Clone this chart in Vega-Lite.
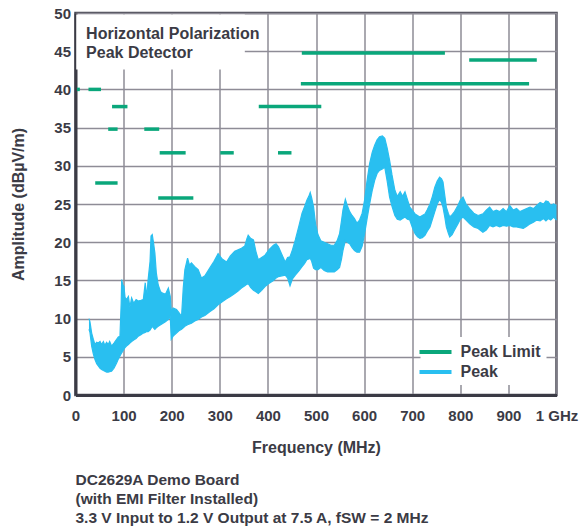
{
  "$schema": "https://vega.github.io/schema/vega-lite/v6.json",
  "width": 481,
  "height": 382,
  "autosize": {"type": "none"},
  "padding": {"left": 75.5, "top": 13, "right": 23.5, "bottom": 134},
  "background": "white",
  "config": {
    "font": "Liberation Sans",
    "view": {"stroke": "#4a4a54", "strokeWidth": 2.5},
    "axis": {
      "gridColor": "#8e8c96",
      "gridWidth": 1.5,
      "gridOpacity": 1,
      "domainColor": "#3b3b45",
      "domainWidth": 3,
      "ticks": false,
      "labelFont": "Liberation Sans",
      "labelFontSize": 15,
      "labelFontWeight": "bold",
      "labelColor": "#3b3b45",
      "labelOverlap": false,
      "labelFlush": false,
      "titleFont": "Liberation Sans",
      "titleFontSize": 16,
      "titleFontWeight": "bold",
      "titleColor": "#3b3b45"
    },
    "legend": {
      "orient": "bottom-right",
      "offset": 10,
      "fillColor": "white",
      "padding": 5,
      "labelFont": "Liberation Sans",
      "labelFontSize": 16,
      "labelFontWeight": "bold",
      "labelColor": "#3b3b45",
      "symbolType": "M-2,0L2,0",
      "symbolStrokeWidth": 4,
      "symbolSize": 256,
      "labelOffset": 15,
      "rowPadding": 2
    }
  },
  "title": {
    "text": ["DC2629A Demo Board", "(with EMI Filter Installed)", "3.3 V Input to 1.2 V Output at 7.5 A, fSW = 2 MHz"],
    "orient": "bottom",
    "anchor": "start",
    "frame": "group",
    "align": "left",
    "offset": 18,
    "font": "Liberation Sans",
    "fontSize": 15.5,
    "fontWeight": "bold",
    "color": "#3b3b45",
    "lineHeight": 19
  },
  "datasets": {
    "peak": [
      {"f": 28, "lo": 8.6, "hi": 10.0}, {"f": 30, "lo": 8.2, "hi": 9.6}, {"f": 33.6, "lo": 6.4, "hi": 8.1},
      {"f": 37, "lo": 5.4, "hi": 7.3}, {"f": 40.5, "lo": 4.65, "hi": 6.6}, {"f": 44, "lo": 4.1, "hi": 6.9},
      {"f": 47.4, "lo": 3.8, "hi": 6.8}, {"f": 51, "lo": 3.5, "hi": 7.0}, {"f": 54.3, "lo": 3.35, "hi": 6.6},
      {"f": 58, "lo": 3.2, "hi": 7.0}, {"f": 61, "lo": 3.1, "hi": 6.5}, {"f": 64.7, "lo": 3.0, "hi": 6.9},
      {"f": 68, "lo": 3.0, "hi": 6.6}, {"f": 71, "lo": 3.05, "hi": 7.0}, {"f": 75, "lo": 3.1, "hi": 6.4},
      {"f": 80, "lo": 3.5, "hi": 6.8}, {"f": 85.5, "lo": 4.2, "hi": 7.3}, {"f": 89, "lo": 4.7, "hi": 7.6},
      {"f": 92.4, "lo": 5.1, "hi": 7.7}, {"f": 95, "lo": 5.4, "hi": 12.0}, {"f": 96, "lo": 5.5, "hi": 15.1},
      {"f": 98, "lo": 5.7, "hi": 14.5}, {"f": 100.7, "lo": 6.0, "hi": 14.2}, {"f": 103, "lo": 6.2, "hi": 12.8},
      {"f": 106, "lo": 6.4, "hi": 12.5}, {"f": 110, "lo": 6.6, "hi": 12.9}, {"f": 113, "lo": 6.8, "hi": 11.5},
      {"f": 116.7, "lo": 7.0, "hi": 12.7}, {"f": 121, "lo": 7.2, "hi": 12.0}, {"f": 126, "lo": 7.4, "hi": 12.5},
      {"f": 130.5, "lo": 7.7, "hi": 12.3}, {"f": 136, "lo": 7.9, "hi": 12.4}, {"f": 141, "lo": 8.1, "hi": 12.5},
      {"f": 145, "lo": 8.2, "hi": 14.7}, {"f": 148, "lo": 8.3, "hi": 12.8}, {"f": 151, "lo": 8.3, "hi": 15.1},
      {"f": 155, "lo": 8.5, "hi": 17.5}, {"f": 157, "lo": 8.7, "hi": 20.8}, {"f": 159.6, "lo": 9.0, "hi": 21.0},
      {"f": 162, "lo": 8.8, "hi": 20.0}, {"f": 165, "lo": 8.6, "hi": 18.6}, {"f": 168, "lo": 8.8, "hi": 16.0},
      {"f": 172, "lo": 9.0, "hi": 14.4}, {"f": 177, "lo": 9.2, "hi": 13.5}, {"f": 182, "lo": 9.4, "hi": 13.3},
      {"f": 187, "lo": 9.6, "hi": 13.2}, {"f": 193, "lo": 9.9, "hi": 14.0}, {"f": 197, "lo": 10.3, "hi": 12.9},
      {"f": 199, "lo": 7.3, "hi": 11.0}, {"f": 203, "lo": 7.7, "hi": 11.4}, {"f": 210, "lo": 8.1, "hi": 11.2},
      {"f": 215, "lo": 8.4, "hi": 10.8}, {"f": 220.5, "lo": 8.6, "hi": 10.3}, {"f": 224, "lo": 8.8, "hi": 14.0},
      {"f": 227.4, "lo": 9.0, "hi": 16.4}, {"f": 233, "lo": 9.2, "hi": 17.9}, {"f": 237, "lo": 9.3, "hi": 17.0},
      {"f": 241, "lo": 9.4, "hi": 17.3}, {"f": 248, "lo": 9.7, "hi": 16.8}, {"f": 255, "lo": 9.9, "hi": 16.4},
      {"f": 262, "lo": 10.2, "hi": 15.3}, {"f": 269, "lo": 10.4, "hi": 15.6}, {"f": 279, "lo": 10.9, "hi": 16.6},
      {"f": 288, "lo": 11.3, "hi": 17.5}, {"f": 296.5, "lo": 11.8, "hi": 18.5}, {"f": 305, "lo": 12.2, "hi": 17.8},
      {"f": 314, "lo": 12.6, "hi": 17.4}, {"f": 322, "lo": 12.9, "hi": 18.2}, {"f": 331, "lo": 13.3, "hi": 18.8},
      {"f": 338, "lo": 13.6, "hi": 19.0}, {"f": 345, "lo": 14.0, "hi": 19.2}, {"f": 352, "lo": 14.3, "hi": 19.5},
      {"f": 356, "lo": 14.5, "hi": 20.4}, {"f": 359, "lo": 14.6, "hi": 20.9}, {"f": 364, "lo": 14.1, "hi": 20.5},
      {"f": 370, "lo": 13.7, "hi": 20.3}, {"f": 375, "lo": 13.5, "hi": 18.8}, {"f": 380, "lo": 13.3, "hi": 17.7},
      {"f": 387, "lo": 13.7, "hi": 18.0}, {"f": 394, "lo": 14.2, "hi": 18.3}, {"f": 402, "lo": 14.6, "hi": 19.0},
      {"f": 411.5, "lo": 15.0, "hi": 19.6}, {"f": 417, "lo": 15.3, "hi": 19.8}, {"f": 422, "lo": 15.5, "hi": 19.4},
      {"f": 429, "lo": 15.6, "hi": 18.4}, {"f": 436, "lo": 15.7, "hi": 17.4}, {"f": 441, "lo": 15.3, "hi": 18.0},
      {"f": 446, "lo": 14.3, "hi": 18.1}, {"f": 451, "lo": 15.2, "hi": 19.0}, {"f": 457, "lo": 15.7, "hi": 20.3},
      {"f": 464, "lo": 16.2, "hi": 22.0}, {"f": 471, "lo": 16.8, "hi": 23.8}, {"f": 476, "lo": 17.2, "hi": 24.6},
      {"f": 481, "lo": 17.7, "hi": 25.5}, {"f": 485, "lo": 17.8, "hi": 26.0}, {"f": 488, "lo": 17.9, "hi": 26.5},
      {"f": 491, "lo": 17.5, "hi": 25.8}, {"f": 495, "lo": 16.6, "hi": 24.6}, {"f": 499, "lo": 16.4, "hi": 22.4},
      {"f": 504, "lo": 16.4, "hi": 21.0}, {"f": 510, "lo": 16.7, "hi": 20.2}, {"f": 517, "lo": 16.3, "hi": 20.0},
      {"f": 524, "lo": 16.1, "hi": 19.8}, {"f": 531, "lo": 16.1, "hi": 19.6}, {"f": 538, "lo": 16.1, "hi": 19.6},
      {"f": 544, "lo": 16.4, "hi": 20.2}, {"f": 549, "lo": 16.7, "hi": 21.1}, {"f": 553, "lo": 17.8, "hi": 22.8},
      {"f": 556, "lo": 18.9, "hi": 24.2}, {"f": 561, "lo": 20.2, "hi": 25.6}, {"f": 565, "lo": 20.0, "hi": 24.8},
      {"f": 570, "lo": 19.8, "hi": 24.0}, {"f": 575, "lo": 19.3, "hi": 23.5}, {"f": 580, "lo": 18.9, "hi": 23.1},
      {"f": 585, "lo": 18.7, "hi": 22.5}, {"f": 590.6, "lo": 18.7, "hi": 22.9}, {"f": 596, "lo": 19.5, "hi": 23.8},
      {"f": 601, "lo": 21.1, "hi": 25.5}, {"f": 606, "lo": 23.0, "hi": 28.0}, {"f": 611.5, "lo": 25.0, "hi": 30.3},
      {"f": 617, "lo": 26.8, "hi": 31.8}, {"f": 622, "lo": 28.1, "hi": 32.7}, {"f": 627, "lo": 29.0, "hi": 33.4},
      {"f": 632, "lo": 29.4, "hi": 33.8}, {"f": 638, "lo": 29.6, "hi": 33.9}, {"f": 643, "lo": 29.8, "hi": 33.6},
      {"f": 648, "lo": 28.0, "hi": 32.3}, {"f": 653, "lo": 25.9, "hi": 30.7}, {"f": 658, "lo": 24.7, "hi": 28.8},
      {"f": 664, "lo": 23.5, "hi": 26.8}, {"f": 669, "lo": 23.0, "hi": 26.0}, {"f": 675, "lo": 22.9, "hi": 26.6},
      {"f": 680, "lo": 23.1, "hi": 26.0}, {"f": 685, "lo": 23.3, "hi": 26.6}, {"f": 690, "lo": 23.0, "hi": 25.6},
      {"f": 695, "lo": 22.9, "hi": 24.6}, {"f": 700, "lo": 22.0, "hi": 24.2}, {"f": 706, "lo": 21.1, "hi": 23.7},
      {"f": 711, "lo": 20.7, "hi": 23.5}, {"f": 716, "lo": 20.5, "hi": 23.3}, {"f": 721, "lo": 20.6, "hi": 23.5},
      {"f": 726.5, "lo": 20.9, "hi": 23.7}, {"f": 731, "lo": 21.4, "hi": 24.2}, {"f": 737, "lo": 22.0, "hi": 25.0},
      {"f": 742, "lo": 23.0, "hi": 26.0}, {"f": 747, "lo": 24.0, "hi": 27.2}, {"f": 752, "lo": 25.0, "hi": 28.0},
      {"f": 757, "lo": 25.6, "hi": 28.5}, {"f": 761, "lo": 25.2, "hi": 28.3}, {"f": 764, "lo": 24.6, "hi": 27.9},
      {"f": 768, "lo": 23.2, "hi": 26.0}, {"f": 771, "lo": 22.0, "hi": 24.6}, {"f": 775, "lo": 21.2, "hi": 23.8},
      {"f": 778, "lo": 20.7, "hi": 23.3}, {"f": 783, "lo": 21.0, "hi": 23.6}, {"f": 788, "lo": 21.6, "hi": 24.0},
      {"f": 795, "lo": 22.4, "hi": 24.8}, {"f": 800, "lo": 23.0, "hi": 25.5}, {"f": 805.6, "lo": 23.3, "hi": 25.9},
      {"f": 812, "lo": 22.9, "hi": 25.0}, {"f": 819.5, "lo": 22.4, "hi": 24.4}, {"f": 828, "lo": 22.0, "hi": 23.8},
      {"f": 837, "lo": 21.8, "hi": 23.5}, {"f": 847, "lo": 21.3, "hi": 23.7}, {"f": 854, "lo": 21.6, "hi": 24.2},
      {"f": 861, "lo": 22.2, "hi": 24.6}, {"f": 868, "lo": 22.0, "hi": 24.0}, {"f": 875, "lo": 22.2, "hi": 24.2},
      {"f": 882, "lo": 22.0, "hi": 24.0}, {"f": 889, "lo": 22.2, "hi": 24.4}, {"f": 896, "lo": 22.1, "hi": 24.0},
      {"f": 903, "lo": 22.2, "hi": 24.8}, {"f": 910, "lo": 22.0, "hi": 24.2}, {"f": 917, "lo": 22.0, "hi": 24.4},
      {"f": 924, "lo": 21.9, "hi": 24.0}, {"f": 931, "lo": 21.8, "hi": 24.2}, {"f": 938, "lo": 22.1, "hi": 24.4},
      {"f": 945, "lo": 22.4, "hi": 24.6}, {"f": 952, "lo": 22.6, "hi": 24.4}, {"f": 959, "lo": 22.9, "hi": 24.8},
      {"f": 966, "lo": 22.8, "hi": 25.2}, {"f": 973, "lo": 23.1, "hi": 25.0}, {"f": 978, "lo": 22.8, "hi": 25.4},
      {"f": 983, "lo": 23.1, "hi": 25.3}, {"f": 988, "lo": 22.9, "hi": 24.8}, {"f": 994, "lo": 23.3, "hi": 25.0},
      {"f": 1000, "lo": 22.9, "hi": 24.8}
    ],
    "limits": [
      {"f1": 3, "f2": 9, "lim": 40},
      {"f1": 27, "f2": 53, "lim": 40},
      {"f1": 41, "f2": 87.5, "lim": 27.75},
      {"f1": 68, "f2": 87.5, "lim": 34.8},
      {"f1": 76, "f2": 108, "lim": 37.75},
      {"f1": 143, "f2": 174, "lim": 34.8},
      {"f1": 175, "f2": 229, "lim": 31.7},
      {"f1": 172, "f2": 245, "lim": 25.8},
      {"f1": 301, "f2": 329, "lim": 31.7},
      {"f1": 421, "f2": 449, "lim": 31.7},
      {"f1": 381, "f2": 511, "lim": 37.75},
      {"f1": 470.5, "f2": 768, "lim": 44.75},
      {"f1": 468.5, "f2": 943, "lim": 40.75},
      {"f1": 818.5, "f2": 959, "lim": 43.85}
    ]
  },
  "encoding": {
    "x": {
      "type": "quantitative",
      "scale": {"domain": [0, 1000], "nice": false},
      "axis": {
        "title": "Frequency (MHz)",
        "values": [0, 100, 200, 300, 400, 500, 600, 700, 800, 900, 1000],
        "labelExpr": "datum.value == 1000 ? '1 GHz' : datum.label",
        "labelPadding": 13,
        "titlePadding": 16
      }
    },
    "y": {
      "type": "quantitative",
      "scale": {"domain": [0, 50], "nice": false},
      "axis": {
        "title": "Amplitude (dBµV/m)",
        "values": [0, 5, 10, 15, 20, 25, 30, 35, 40, 45, 50],
        "labelPadding": 5,
        "titlePadding": 27
      }
    }
  },
  "layer": [
    {
      "data": {"name": "peak"},
      "mark": {"type": "area", "color": "#29bff0", "opacity": 1},
      "encoding": {
        "x": {"field": "f", "type": "quantitative"},
        "y": {"field": "lo", "type": "quantitative"},
        "y2": {"field": "hi"}
      }
    },
    {
      "data": {"name": "peak"},
      "mark": {"type": "line", "strokeWidth": 1.2},
      "encoding": {
        "x": {"field": "f", "type": "quantitative"},
        "y": {"field": "hi", "type": "quantitative"},
        "color": {
          "datum": "Peak",
          "scale": {"domain": ["Peak Limit", "Peak"], "range": ["#0aa77b", "#29bff0"]},
          "legend": {"title": null}
        }
      }
    },
    {
      "data": {"name": "peak"},
      "mark": {"type": "line", "strokeWidth": 1.2, "color": "#29bff0"},
      "encoding": {
        "x": {"field": "f", "type": "quantitative"},
        "y": {"field": "lo", "type": "quantitative"}
      }
    },
    {
      "data": {"name": "limits"},
      "mark": {"type": "rule", "strokeWidth": 3.5},
      "encoding": {
        "x": {"field": "f1", "type": "quantitative"},
        "x2": {"field": "f2"},
        "y": {"field": "lim", "type": "quantitative"},
        "color": {"datum": "Peak Limit"}
      }
    },
    {
      "data": {"values": [{"label": "box"}]},
      "mark": {"type": "rect", "fill": "white"},
      "encoding": {
        "x": {"datum": 1.5},
        "x2": {"datum": 352},
        "y": {"datum": 42.6},
        "y2": {"datum": 49.8}
      }
    },
    {
      "data": {"values": [{"label": "Horizontal Polarization\nPeak Detector"}]},
      "mark": {
        "type": "text",
        "align": "left",
        "baseline": "middle",
        "font": "Liberation Sans",
        "fontSize": 16,
        "fontWeight": "bold",
        "color": "#3b3b45",
        "lineBreak": "\n",
        "lineHeight": 19
      },
      "encoding": {
        "x": {"datum": 22},
        "y": {"datum": 47.3},
        "text": {"field": "label"}
      }
    }
  ]
}
